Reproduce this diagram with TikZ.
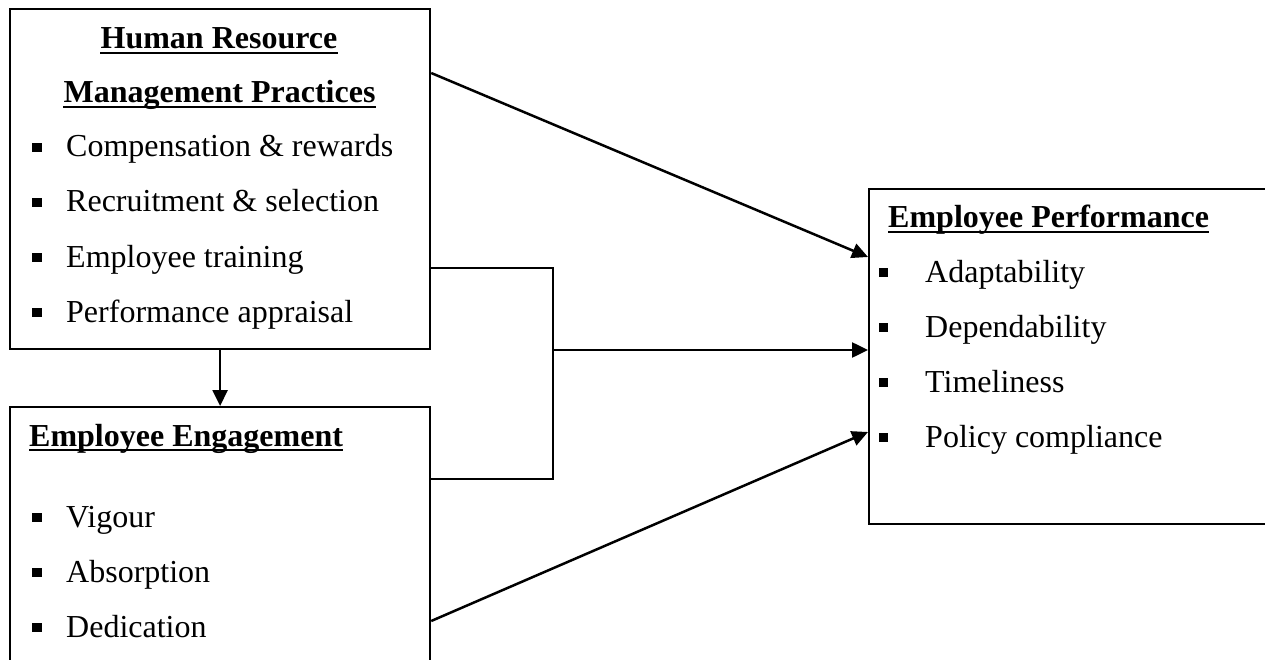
\documentclass[tikz,border=0pt]{standalone}
\usepackage{fontspec}
\setmainfont{Liberation Serif}
\usetikzlibrary{arrows.meta,calc}
\begin{document}
\begin{tikzpicture}[x=1pt,y=-1pt,
  box/.style={draw,line width=2.2pt,inner sep=0,anchor=north west},
  txt/.style={anchor=base west,inner sep=0,font=\fontsize{32}{38}\selectfont},
  head/.style={anchor=base,inner sep=0,font=\fontsize{32}{38}\selectfont\bfseries},
  headl/.style={anchor=base west,inner sep=0,font=\fontsize{32}{38}\selectfont\bfseries},
  bul/.style={fill,inner sep=0,minimum size=9.5pt},
  ul/.style={line width=2.6pt},
  conn/.style={line width=2.5pt},
  arr/.style={conn,-{Triangle[length=16pt,width=15pt]}}]
\clip (0,0) rectangle (1265,660);
\fill[white] (0,0) rectangle (1265,660);
% boxes
\node[box,minimum width=420pt,minimum height=340pt] (hrm) at (9,8) {};
\node[box,minimum width=420pt,minimum height=320pt] (ee) at (9,406) {};
\node[box,minimum width=450pt,minimum height=335pt] (ep) at (868,188) {};
% HRM text
\node[head] (h1) at (219,49) {Human Resource};
\node[head] (h2) at (219.5,103) {Management Practices};
\draw[ul] ($(h1.base west)+(0,4)$) -- ($(h1.base east)+(0,4)$);
\draw[ul] ($(h2.base west)+(0,4)$) -- ($(h2.base east)+(0,4)$);
\foreach \y/\t [count=\i] in {157/{Compensation \& rewards},212/{Recruitment \& selection},267/{Employee training},322/{Performance appraisal}}{
  \node[bul] (hb\i) at (37,\y-9.5) {};
  \node[txt] (ht\i) at (66,\y) {\t};
}
% EE text
\node[headl] (e1) at (29,446) {Employee Engagement};
\draw[ul] ($(e1.base west)+(0,4)$) -- ($(e1.base east)+(0,4)$);
\foreach \y/\t [count=\i] in {527/Vigour,582/Absorption,637/Dedication}{
  \node[bul] (eb\i) at (37,\y-9.5) {};
  \node[txt] (et\i) at (66,\y) {\t};
}
% EP text
\node[headl] (p1) at (888,228) {Employee Performance};
\draw[ul] ($(p1.base west)+(0,4)$) -- ($(p1.base east)+(0,4)$);
\foreach \y/\t [count=\i] in {282/Adaptability,337/Dependability,392/Timeliness,447/{Policy compliance}}{
  \node[bul] (pb\i) at (883.5,\y-9.5) {};
  \node[txt] (pt\i) at (925,\y) {\t};
}
% connectors
\coordinate (jn) at (553,350);
\draw[arr] ($(hrm.north east)+(0,65)$) -- ($(ep.north west)+(0,69)$);
\draw[arr] (hrm.south) -- (ee.north);
\draw[conn] ($(hrm.north east)+(0,260)$) -| (jn) |- ($(ee.north east)+(0,73)$);
\draw[arr] (jn) -- (jn -| ep.west);
\draw[arr] ($(ee.north east)+(0,215)$) -- ($(ep.north west)+(0,244)$);
\end{tikzpicture}
\end{document}
